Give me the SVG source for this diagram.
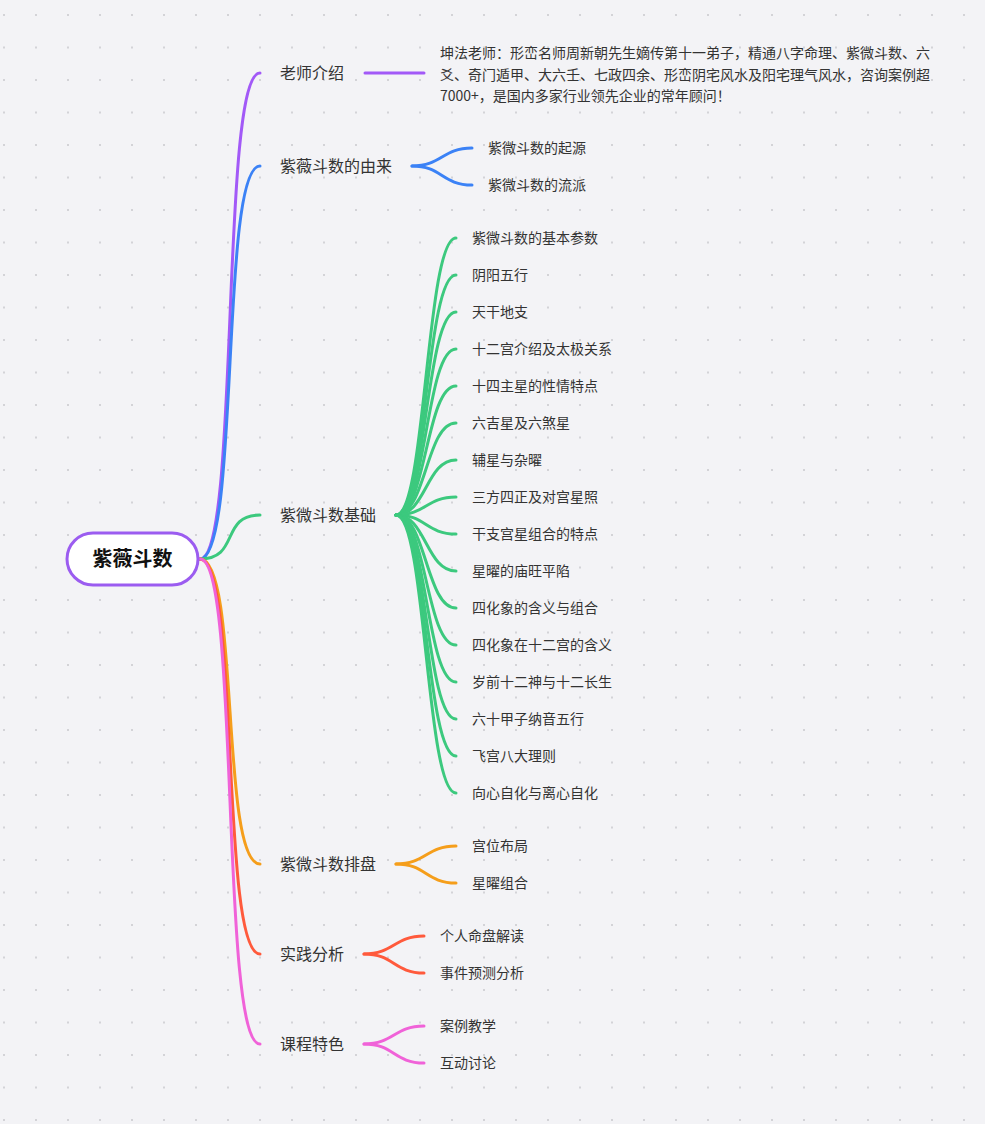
<svg xmlns="http://www.w3.org/2000/svg" width="985" height="1124" viewBox="0 0 985 1124">
<defs>
<pattern id="dots" x="4" y="15" width="32" height="32.5" patternUnits="userSpaceOnUse"><circle cx="0" cy="0" r="1" fill="#c8c8cc"/><circle cx="32" cy="0" r="1" fill="#c8c8cc"/><circle cx="0" cy="32.5" r="1" fill="#c8c8cc"/><circle cx="32" cy="32.5" r="1" fill="#c8c8cc"/></pattern>
<style>
text{font-family:"Noto Sans CJK SC","Liberation Sans",sans-serif;fill:#333}
.b{font-size:16px}
.c{font-size:14px}
path{fill:none;stroke-width:3;stroke-linecap:round}
.p{stroke:#a259f7}.bl{stroke:#3b82f6}.g{stroke:#3cc97e}.o{stroke:#f59e1b}.r{stroke:#ff5a3c}.k{stroke:#f062d8}
</style>
</defs>
<rect width="985" height="1124" fill="#f3f3f6"/>
<rect width="985" height="1124" fill="url(#dots)"/>
<g id="connectors">
<path class="p" d="M200,559 C240,559 220,73 260,73"/>
<path class="bl" d="M200,559 C240,559 220,166 260,166"/>
<path class="g" d="M200,559 C240,559 220,515 260,515"/>
<path class="o" d="M200,559 C240,559 220,864 260,864"/>
<path class="r" d="M200,559 C240,559 220,954 260,954"/>
<path class="k" d="M200,559 C240,559 220,1044 260,1044"/>
<path class="p" d="M365,73 L424,73"/>
<path class="bl" d="M412,166 C442,166 442,148 472,148"/>
<path class="bl" d="M412,166 C442,166 442,185 472,185"/>
<g class="g">
<path class="g" d="M396,515 C426,515 426,238 456,238"/>
<path class="g" d="M396,515 C426,515 426,275 456,275"/>
<path class="g" d="M396,515 C426,515 426,312 456,312"/>
<path class="g" d="M396,515 C426,515 426,349 456,349"/>
<path class="g" d="M396,515 C426,515 426,386 456,386"/>
<path class="g" d="M396,515 C426,515 426,423 456,423"/>
<path class="g" d="M396,515 C426,515 426,460 456,460"/>
<path class="g" d="M396,515 C426,515 426,497 456,497"/>
<path class="g" d="M396,515 C426,515 426,534 456,534"/>
<path class="g" d="M396,515 C426,515 426,571 456,571"/>
<path class="g" d="M396,515 C426,515 426,608 456,608"/>
<path class="g" d="M396,515 C426,515 426,645 456,645"/>
<path class="g" d="M396,515 C426,515 426,682 456,682"/>
<path class="g" d="M396,515 C426,515 426,719 456,719"/>
<path class="g" d="M396,515 C426,515 426,756 456,756"/>
<path class="g" d="M396,515 C426,515 426,793 456,793"/>
</g>
<path class="o" d="M396,864 C426,864 426,846 456,846"/>
<path class="o" d="M396,864 C426,864 426,883 456,883"/>
<path class="r" d="M364,954 C394,954 394,936 424,936"/>
<path class="r" d="M364,954 C394,954 394,973 424,973"/>
<path class="k" d="M364,1044 C394,1044 394,1026 424,1026"/>
<path class="k" d="M364,1044 C394,1044 394,1063 424,1063"/>
</g>
<g id="root">
<rect x="67" y="533" width="131" height="52" rx="26" fill="#fff" stroke="#9b5cf0" stroke-width="3"/>
<text x="132.5" y="566" text-anchor="middle" style="font-size:20px;font-weight:bold;fill:#111">紫薇斗数</text>
</g>
<g id="n1"><text class="b" x="280" y="79">老师介绍</text></g>
<g id="n1a"><text class="c" x="440" y="58">坤法老师：形峦名师周新朝先生嫡传第十一弟子，精通八字命理、紫微斗数、六</text><text class="c" x="440" y="80">爻、奇门遁甲、大六壬、七政四余、形峦阴宅风水及阳宅理气风水，咨询案例超</text><text class="c" x="440" y="101">7000+，是国内多家行业领先企业的常年顾问！</text></g>
<g id="n2"><text class="b" x="280" y="172">紫薇斗数的由来</text></g>
<g id="n2a"><text class="c" x="488" y="153">紫微斗数的起源</text></g>
<g id="n2b"><text class="c" x="488" y="190">紫微斗数的流派</text></g>
<g id="n3"><text class="b" x="280" y="521">紫微斗数基础</text></g>
<g id="n3c" class="c">
<text class="c" x="472" y="243">紫微斗数的基本参数</text>
<text class="c" x="472" y="280">阴阳五行</text>
<text class="c" x="472" y="317">天干地支</text>
<text class="c" x="472" y="354">十二宫介绍及太极关系</text>
<text class="c" x="472" y="391">十四主星的性情特点</text>
<text class="c" x="472" y="428">六吉星及六煞星</text>
<text class="c" x="472" y="465">辅星与杂曜</text>
<text class="c" x="472" y="502">三方四正及对宫星照</text>
<text class="c" x="472" y="539">干支宫星组合的特点</text>
<text class="c" x="472" y="576">星曜的庙旺平陷</text>
<text class="c" x="472" y="613">四化象的含义与组合</text>
<text class="c" x="472" y="650">四化象在十二宫的含义</text>
<text class="c" x="472" y="687">岁前十二神与十二长生</text>
<text class="c" x="472" y="724">六十甲子纳音五行</text>
<text class="c" x="472" y="761">飞宫八大理则</text>
<text class="c" x="472" y="798">向心自化与离心自化</text>
</g>
<g id="n4"><text class="b" x="280" y="870">紫微斗数排盘</text></g>
<g id="n4a"><text class="c" x="472" y="851">宫位布局</text></g>
<g id="n4b"><text class="c" x="472" y="888">星曜组合</text></g>
<g id="n5"><text class="b" x="280" y="960">实践分析</text></g>
<g id="n5a"><text class="c" x="440" y="941">个人命盘解读</text></g>
<g id="n5b"><text class="c" x="440" y="978">事件预测分析</text></g>
<g id="n6"><text class="b" x="280" y="1050">课程特色</text></g>
<g id="n6a"><text class="c" x="440" y="1031">案例教学</text></g>
<g id="n6b"><text class="c" x="440" y="1068">互动讨论</text></g>
</svg>
